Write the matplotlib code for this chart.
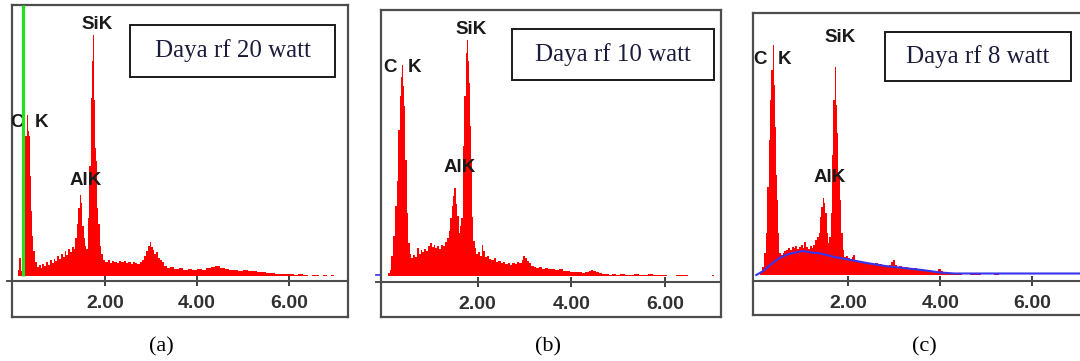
import numpy as np
import matplotlib.pyplot as plt
from matplotlib.patches import Rectangle

# EDS spectra, energy in keV, counts (arbitrary units)
energy_a = [0.08, 0.12, 0.15, 0.18, 0.22, 0.25, 0.28, 0.31, 0.33, 0.35,
            0.37, 0.39, 0.41, 0.43, 0.46, 0.50, 0.54, 0.58, 0.62, 0.66,
            0.70, 0.74, 0.78, 0.82, 0.86, 0.90, 0.94, 0.98, 1.02, 1.06,
            1.10, 1.14, 1.18, 1.22, 1.26, 1.30, 1.34, 1.37, 1.40, 1.43,
            1.46, 1.48, 1.50, 1.52, 1.55, 1.58, 1.61, 1.64, 1.67, 1.70,
            1.72, 1.74, 1.76, 1.78, 1.80, 1.82, 1.84, 1.87, 1.90, 1.94,
            1.98, 2.03, 2.08, 2.13, 2.18, 2.23, 2.28, 2.33, 2.38, 2.43,
            2.48, 2.53, 2.58, 2.63, 2.68, 2.73, 2.78, 2.83, 2.88, 2.92,
            2.96, 2.99, 3.02, 3.05, 3.09, 3.13, 3.17, 3.21, 3.26, 3.31,
            3.37, 3.45, 3.55, 3.65, 3.75, 3.85, 3.95, 4.05, 4.15, 4.25,
            4.35, 4.45, 4.55, 4.65, 4.75, 4.85, 4.95, 5.05, 5.15, 5.25,
            5.35, 5.45, 5.55, 5.65, 5.75, 5.85, 5.95, 6.05, 6.15, 6.25,
            6.35, 6.45, 6.55, 6.62, 6.70, 6.78, 6.86, 6.94, 7.00, 7.05]
counts_a = [0, 6, 18, 5, 60, 113, 140, 161, 145, 140,
            118, 100, 65, 40, 25, 14, 9, 11, 8, 12,
            10, 14, 11, 16, 13, 17, 15, 20, 17, 22,
            19, 25, 21, 27, 24, 29, 27, 38, 52, 68,
            81, 73, 78, 50, 38, 30, 27, 58, 110, 178,
            215, 241, 205, 176, 128, 115, 68, 52, 30, 22,
            16, 14, 16, 13, 15, 14, 13, 15, 14, 15,
            13, 14, 12, 14, 13, 12, 14, 16, 20, 25,
            30, 34, 29, 26, 22, 24, 18, 16, 14, 10,
            8, 9, 7, 8, 6, 7, 6, 7, 6, 8,
            9, 10, 8, 7, 6, 6, 5, 6, 5, 5,
            4, 4, 3, 3, 2, 2, 2, 2, 1, 2,
            1, 0, 1, 1, 0, 1, 0, 1, 0, 0]

energy_b = [0.06, 0.10, 0.14, 0.18, 0.22, 0.26, 0.29, 0.32, 0.35, 0.38,
            0.40, 0.42, 0.44, 0.47, 0.50, 0.53, 0.56, 0.60, 0.64, 0.68,
            0.72, 0.76, 0.80, 0.84, 0.88, 0.92, 0.96, 1.00, 1.04, 1.08,
            1.12, 1.16, 1.20, 1.24, 1.28, 1.32, 1.36, 1.40, 1.43, 1.46,
            1.49, 1.52, 1.55, 1.58, 1.61, 1.64, 1.67, 1.70, 1.73, 1.76,
            1.78, 1.80, 1.82, 1.84, 1.86, 1.89, 1.92, 1.95, 1.99, 2.03,
            2.07, 2.11, 2.14, 2.18, 2.22, 2.27, 2.32, 2.37, 2.42, 2.47,
            2.52, 2.57, 2.62, 2.67, 2.72, 2.77, 2.82, 2.87, 2.92, 2.96,
            3.00, 3.04, 3.08, 3.12, 3.17, 3.22, 3.28, 3.34, 3.40, 3.47,
            3.54, 3.62, 3.70, 3.78, 3.86, 3.94, 4.02, 4.10, 4.18, 4.26,
            4.34, 4.40, 4.45, 4.50, 4.56, 4.62, 4.68, 4.76, 4.84, 4.92,
            5.00, 5.10, 5.20, 5.30, 5.40, 5.50, 5.60, 5.70, 5.80, 5.90,
            6.00, 6.10, 6.20, 6.28, 6.36, 6.44, 6.55, 6.75, 6.95, 7.05]
counts_b = [0, 3, 6, 20, 40, 70, 95, 146, 180, 199,
            211, 190, 170, 116, 63, 33, 22, 18, 21, 19,
            28, 22, 26, 24, 27, 25, 30, 33, 29, 31,
            28, 30, 27, 31, 30, 34, 38, 45, 58, 70,
            80, 88, 72, 60, 43, 50, 58, 130, 180, 223,
            236, 215, 193, 150, 116, 59, 35, 28, 22, 24,
            20, 31, 25, 19, 20, 17, 16, 18, 14, 15,
            13, 14, 12, 13, 11, 13, 12, 14, 13, 16,
            20, 18, 15, 13, 10, 9, 8, 9, 7, 8,
            7, 7, 6, 7, 5, 5, 4, 4, 4, 3,
            4, 5, 6, 5, 4, 3, 2, 2, 1, 2,
            1, 2, 1, 1, 2, 1, 1, 2, 1, 1,
            1, 0, 0, 1, 1, 1, 0, 0, 0, 1]

energy_c = [0.04, 0.10, 0.15, 0.19, 0.22, 0.25, 0.28, 0.31, 0.34, 0.37,
            0.39, 0.41, 0.43, 0.45, 0.48, 0.51, 0.55, 0.59, 0.63, 0.67,
            0.71, 0.75, 0.79, 0.83, 0.87, 0.91, 0.95, 0.99, 1.03, 1.06,
            1.10, 1.14, 1.18, 1.22, 1.26, 1.30, 1.34, 1.37, 1.40, 1.43,
            1.46, 1.48, 1.51, 1.54, 1.57, 1.60, 1.63, 1.66, 1.69, 1.72,
            1.75, 1.77, 1.80, 1.83, 1.86, 1.89, 1.93, 1.97, 2.01, 2.05,
            2.09, 2.12, 2.16, 2.21, 2.26, 2.31, 2.36, 2.41, 2.46, 2.51,
            2.56, 2.61, 2.66, 2.71, 2.76, 2.81, 2.86, 2.91, 2.95, 2.99,
            3.03, 3.08, 3.14, 3.20, 3.26, 3.32, 3.38, 3.45, 3.52, 3.60,
            3.68, 3.76, 3.84, 3.92, 3.98, 4.03, 4.08, 4.14, 4.22, 4.32,
            4.42, 4.50, 4.60, 4.68, 4.76, 4.84, 4.92, 5.10, 5.24, 5.30]
counts_c = [0, 3, 8, 22, 42, 88, 135, 175, 205, 230,
            190, 148, 100, 75, 42, 22, 20, 22, 24, 25,
            27, 25, 28, 27, 29, 26, 28, 30, 27, 33,
            28, 26, 29, 27, 30, 35, 38, 42, 58, 68,
            77, 72, 62, 42, 32, 38, 62, 120, 175, 208,
            170, 142, 100, 75, 42, 25, 18, 19, 17, 16,
            18, 20, 15, 13, 14, 12, 13, 12, 11, 12,
            11, 12, 10, 11, 9, 10, 9, 10, 13, 15,
            10, 8, 9, 7, 8, 7, 6, 7, 5, 5,
            4, 5, 4, 3, 6, 4, 3, 2, 1.5, 1.5,
            1.5, 0, 0, 1, 1, 1, 0, 0, 1, 0]

# fitted background of panel (c)
bg_energy_c = [0.00, 0.15, 0.30, 0.50, 0.70, 0.90, 1.02, 1.20, 1.40, 1.70,
               2.00, 2.40, 2.80, 3.20, 3.60, 4.00, 4.30, 4.60, 5.50, 7.50]
bg_counts_c = [0, 4, 10, 17, 21, 23, 24, 22.5, 21.5, 18,
               15.5, 12, 9, 7, 5, 2.5, 1.5, 1.5, 1.5, 1.5]

tick_pos = [2, 4, 6]
tick_labels = ["2.00", "4.00", "6.00"]
peak_names = ["SiK", "C  K", "AlK"]
peak_pos_a = [(1.82, 252), (0.36, 154), (1.57, 96)]
peak_pos_b = [(1.87, 247), (0.40, 208), (1.61, 109)]
peak_pos_c = [(1.83, 237), (0.36, 215), (1.59, 97)]
titles = ["Daya rf 20 watt", "Daya rf 10 watt", "Daya rf 8 watt"]
captions = ["(a)", "(b)", "(c)"]

W, H = 1080, 361
fig = plt.figure(figsize=(W / 100, H / 100), dpi=100)
SANS = "Liberation Sans"
SERIF = "Liberation Serif"
RED = "#ff0000"
FRAME = "#4d4d4d"


def px_box(x0, y0, x1, y1):
    return [x0 / W, 1 - y1 / H, (x1 - x0) / W, (y1 - y0) / H]


def panel(box, xlim, ylim, base, energy, counts, peaks):
    ax = fig.add_axes(px_box(*box))
    ax.set_xlim(*xlim)
    ax.set_ylim(*ylim)
    ax.set_xticks([])
    ax.set_yticks([])
    for s in ax.spines.values():
        s.set_color(FRAME)
        s.set_linewidth(1.6)
    ax.fill_between(energy, counts, 0, step="mid", color=RED, lw=0, zorder=2)

    loc = (base - ylim[0]) / (ylim[1] - ylim[0])
    sec = ax.secondary_xaxis(loc)
    sec.set_xticks(tick_pos)
    sec.set_xticklabels(tick_labels, fontsize=14, fontweight="bold",
                        family=SANS, color="#303030")
    sec.tick_params(axis="x", direction="inout", length=7, width=1.3,
                    color="#303030", pad=6.5)
    sec.spines["bottom"].set_color(FRAME)
    sec.spines["bottom"].set_linewidth(1.5)

    for name, (x, y) in zip(peak_names, peaks):
        ax.text(x, y, name, ha="center", va="center", fontsize=13.5,
                fontweight="bold", family=SANS, color="#1a1a1a", zorder=3)
    return ax


ax_a = panel((12, 5, 348, 317), (-0.022, 7.28), (-41, 271), -5,
             energy_a, counts_a, peak_pos_a)
ax_a.vlines(0.22, 0, 271, color="#22e022", lw=2.3, zorder=5)
ax_a.plot([-0.13, -0.022], [-5, -5], color=FRAME, lw=1.4, clip_on=False)

ax_b = panel((381, 10, 721, 317), (-0.064, 7.20), (-41, 266), -6,
             energy_b, counts_b, peak_pos_b)
ax_b.plot([-0.17, -0.064], [-6, -6], color=FRAME, lw=1.4, clip_on=False)
ax_b.plot([-0.17, -0.08], [1, 1], color="#3030f0", lw=1.2, clip_on=False)

ax_c = panel((753, 13, 1090, 315), (-0.072, 7.25), (-40, 262), -6,
             energy_c, counts_c, peak_pos_c)
ax_c.plot(bg_energy_c, bg_counts_c, color="#3535ee", lw=1.5, zorder=4)

# legend-like boxes with the rf power
boxes = [(130, 25, 335, 77), (512, 29, 714, 80), (885, 32, 1071, 81)]
for (x0, y0, x1, y1), t in zip(boxes, titles):
    fig.add_artist(Rectangle((x0 / W, 1 - y1 / H), (x1 - x0) / W, (y1 - y0) / H,
                             transform=fig.transFigure, fill=False,
                             ec="#1a1a1a", lw=1.4))
    fig.text((x0 + x1) / 2 / W, 1 - (y0 + y1) / 2 / H, t, ha="center",
             va="center", fontsize=18, family=SERIF, color="#1b1b3c")

for x, c in zip([161, 548, 924], captions):
    fig.text(x / W, 1 - 347 / H, c, ha="center", va="center", fontsize=16,
             family=SERIF, color="black")

fig.savefig("out.png", dpi=100)
